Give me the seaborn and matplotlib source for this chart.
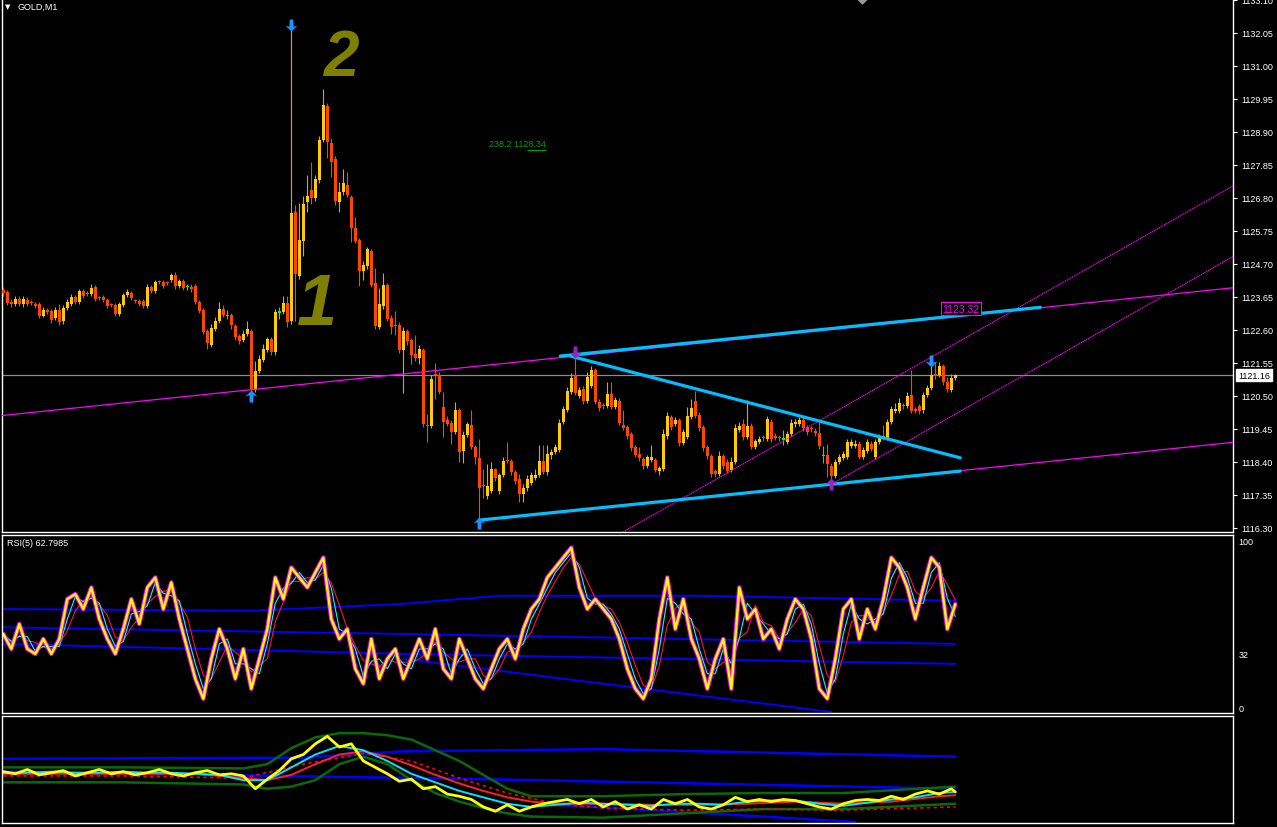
import matplotlib
matplotlib.use("Agg")
import numpy as np
import pandas as pd
import matplotlib.pyplot as plt
from matplotlib.path import Path
from matplotlib.transforms import blended_transform_factory
import seaborn as sns

# ---------------- price data (GOLD, M1) ----------------
opens = [
 1123.87,1123.81,1123.49,1123.43,1123.59,1123.43,1123.56,1123.46,1123.43,1123.43,
 1123.05,1123.24,1123.21,1122.98,1123.24,1122.89,1123.30,1123.43,1123.65,1123.49,
 1123.84,1123.75,1123.75,1123.97,1123.62,1123.65,1123.56,1123.40,1123.40,1123.11,
 1123.40,1123.71,1123.78,1123.52,1123.52,1123.52,1123.37,1123.97,1123.84,1124.13,
 1124.13,1124.10,1124.19,1124.35,1124.00,1124.16,1123.97,1123.97,1124.00,1123.49,
 1123.24,1122.57,1122.12,1122.63,1122.89,1123.27,1123.05,1123.08,1122.73,1122.41,
 1122.28,1122.47,1122.57,1120.69,1121.29,1121.64,1121.96,1122.31,1121.90,1123.17,
 1123.17,1123.46,1122.89,1126.35,1124.32,1125.43,1126.67,1127.05,1126.80,1127.37,
 1128.64,1129.73,1128.55,1128.04,1126.67,1126.99,1127.21,1126.83,1125.84,1125.46,
 1124.48,1124.64,1125.11,1124.10,1122.70,1123.37,1124.03,1122.98,1122.73,1122.76,
 1121.96,1122.57,1122.28,1121.83,1121.71,1121.96,1119.54,1119.54,1121.17,1121.17,
 1120.15,1119.73,1119.64,1119.35,1120.05,1118.75,1119.26,1119.58,1118.87,1118.53,
 1117.64,1117.32,1117.48,1118.18,1117.48,1117.99,1118.43,1118.43,1118.08,1117.86,
 1117.38,1117.57,1117.73,1117.89,1117.99,1118.43,1118.08,1118.62,1118.72,1118.78,
 1119.67,1120.05,1120.63,1121.17,1120.50,1120.72,1120.34,1120.82,1121.32,1120.31,
 1120.18,1120.18,1120.56,1120.15,1120.34,1119.58,1119.51,1119.29,1118.87,1118.65,
 1118.49,1118.27,1118.46,1118.46,1118.11,1118.18,1119.23,1119.83,1119.61,1119.73,
 1119.00,1119.19,1119.83,1120.34,1119.90,1119.51,1118.87,1118.59,1118.11,1118.02,
 1118.59,1118.40,1118.14,1118.40,1119.42,1119.61,1119.19,1119.54,1118.87,1119.03,
 1119.16,1119.13,1119.67,1119.23,1119.16,1119.13,1119.03,1119.29,1119.61,1119.61,
 1119.73,1119.51,1119.45,1119.38,1119.32,1118.59,1118.62,1118.27,1117.96,1118.40,
 1118.53,1118.56,1118.91,1118.91,1118.97,1118.56,1118.75,1118.97,1118.56,1119.03,
 1119.19,1119.16,1119.67,1120.02,1120.02,1120.18,1120.18,1120.53,1120.09,1120.18,
 1120.05,1120.53,1120.75,1121.20,1121.17,1121.45,1120.94,1120.69,1121.07]
closes = [
 1123.78,1123.46,1123.43,1123.59,1123.43,1123.59,1123.43,1123.45,1123.37,1123.05,
 1123.24,1123.17,1122.92,1123.24,1122.86,1123.30,1123.49,1123.65,1123.49,1123.84,
 1123.68,1123.74,1123.94,1123.59,1123.61,1123.56,1123.37,1123.39,1123.11,1123.43,
 1123.71,1123.81,1123.62,1123.51,1123.43,1123.37,1123.97,1123.84,1124.13,1124.12,
 1124.00,1124.09,1124.35,1124.00,1124.16,1123.94,1123.97,1123.91,1123.49,1123.21,
 1122.54,1122.19,1122.66,1122.89,1123.27,1123.08,1123.05,1122.76,1122.38,1122.25,
 1122.47,1122.63,1120.69,1121.29,1121.67,1121.99,1122.31,1121.90,1123.17,1123.17,
 1123.46,1122.86,1126.32,1124.38,1125.46,1126.61,1126.86,1126.80,1127.40,1128.64,
 1129.76,1128.58,1127.94,1126.70,1126.99,1127.28,1126.89,1125.84,1125.43,1124.48,
 1124.67,1125.18,1124.03,1122.73,1123.43,1124.03,1122.95,1122.70,1122.72,1121.96,
 1122.57,1122.25,1121.80,1121.71,1121.99,1119.61,1119.53,1121.04,1121.16,1120.63,
 1119.67,1119.61,1119.35,1120.05,1118.72,1119.26,1119.61,1118.87,1118.56,1117.57,
 1117.63,1117.64,1118.18,1117.89,1117.99,1118.43,1118.42,1118.08,1117.80,1117.38,
 1117.57,1117.86,1117.99,1117.99,1118.43,1118.08,1118.65,1118.72,1118.87,1119.64,
 1120.09,1120.66,1121.07,1120.59,1120.69,1120.34,1121.10,1121.32,1120.31,1120.12,
 1120.17,1120.56,1120.15,1120.37,1119.64,1119.48,1119.23,1118.84,1118.62,1118.53,
 1118.27,1118.56,1118.56,1118.14,1118.21,1119.29,1119.86,1119.51,1119.73,1119.00,
 1119.35,1119.86,1120.12,1119.86,1119.48,1118.84,1118.59,1118.02,1118.02,1118.59,
 1118.27,1118.11,1118.40,1119.48,1119.54,1119.19,1119.54,1118.87,1119.07,1119.13,
 1119.15,1119.77,1119.13,1119.16,1119.15,1119.13,1119.29,1119.64,1119.67,1119.73,
 1119.48,1119.35,1119.44,1119.32,1118.91,1118.59,1118.34,1117.96,1118.40,1118.56,
 1118.65,1119.03,1119.03,1118.97,1118.56,1118.78,1119.03,1118.81,1119.03,1119.19,
 1119.18,1119.67,1120.09,1120.09,1120.28,1120.17,1120.50,1120.02,1120.02,1120.02,
 1120.53,1120.75,1121.17,1121.13,1121.45,1120.94,1120.72,1121.07,1121.16]
highs = [
 1123.97,1123.87,1123.59,1123.68,1123.68,1123.68,1123.65,1123.56,1123.49,1123.49,
 1123.33,1123.30,1123.27,1123.33,1123.43,1123.40,1123.59,1123.75,1123.71,1123.91,
 1123.91,1123.84,1124.06,1124.03,1123.68,1123.71,1123.62,1123.46,1123.46,1123.49,
 1123.78,1123.91,1123.84,1123.59,1123.59,1123.59,1124.06,1124.03,1124.19,1124.19,
 1124.19,1124.16,1124.41,1124.44,1124.22,1124.22,1124.06,1124.06,1124.06,1123.56,
 1123.30,1122.63,1122.79,1123.02,1123.49,1123.40,1123.24,1123.14,1122.79,1122.47,
 1122.60,1122.89,1122.63,1121.61,1121.80,1122.15,1122.38,1122.38,1123.27,1123.33,
 1123.68,1123.68,1132.18,1126.57,1126.64,1126.86,1127.53,1127.94,1127.53,1128.77,
 1130.27,1129.82,1128.71,1128.13,1127.31,1127.72,1127.62,1126.89,1126.19,1125.53,
 1124.80,1125.24,1125.18,1124.57,1123.94,1124.41,1124.10,1123.08,1123.21,1122.86,
 1122.70,1122.63,1122.34,1122.44,1122.12,1122.03,1119.93,1121.17,1121.55,1121.26,
 1120.63,1119.86,1119.73,1120.31,1120.12,1119.38,1119.67,1120.05,1118.94,1119.13,
 1118.18,1118.34,1118.40,1118.21,1118.05,1118.56,1119.03,1118.49,1118.14,1118.02,
 1117.70,1117.99,1118.08,1118.18,1118.94,1118.94,1118.94,1118.81,1118.97,1119.77,
 1120.18,1120.79,1121.23,1121.77,1120.79,1120.82,1121.26,1121.45,1121.39,1120.40,
 1120.28,1120.94,1120.94,1120.47,1120.43,1120.05,1119.58,1119.35,1118.94,1118.87,
 1118.56,1118.62,1118.94,1118.53,1118.27,1119.45,1119.99,1119.90,1119.83,1119.80,
 1119.45,1120.15,1120.40,1120.66,1119.99,1119.58,1118.94,1118.65,1118.18,1118.75,
 1118.65,1118.49,1118.56,1119.61,1119.67,1119.77,1120.37,1119.64,1119.13,1119.23,
 1119.26,1119.86,1119.77,1119.32,1119.26,1119.42,1119.38,1119.77,1119.77,1119.83,
 1119.83,1119.58,1119.54,1119.48,1119.67,1118.91,1118.97,1118.37,1118.49,1118.65,
 1118.75,1119.13,1119.13,1119.10,1119.07,1118.87,1119.13,1119.07,1119.13,1119.29,
 1119.58,1119.77,1120.18,1120.28,1120.43,1120.28,1120.63,1121.32,1120.15,1120.24,
 1120.63,1120.85,1121.48,1121.58,1121.58,1121.52,1121.10,1121.20,1121.20]
lows = [
 1123.68,1123.40,1123.33,1123.37,1123.37,1123.33,1123.37,1123.40,1123.30,1122.98,
 1123.02,1123.11,1122.82,1122.92,1122.76,1122.79,1123.24,1123.37,1123.43,1123.43,
 1123.62,1123.68,1123.68,1123.52,1123.56,1123.49,1123.30,1123.33,1123.05,1123.05,
 1123.33,1123.65,1123.56,1123.46,1123.37,1123.30,1123.30,1123.78,1123.78,1124.06,
 1123.94,1124.03,1124.13,1123.91,1123.94,1123.87,1123.87,1123.81,1123.43,1123.14,
 1122.47,1121.99,1122.06,1122.57,1122.82,1123.02,1122.95,1122.63,1122.28,1122.15,
 1122.22,1122.41,1120.63,1120.63,1121.23,1121.58,1121.90,1121.80,1121.80,1122.95,
 1123.11,1122.70,1122.79,1122.89,1124.22,1124.95,1126.35,1126.61,1126.70,1127.28,
 1128.58,1128.07,1127.47,1126.58,1126.35,1126.89,1126.83,1125.40,1125.37,1124.00,
 1124.19,1124.54,1123.97,1122.63,1122.63,1123.27,1122.89,1122.47,1122.44,1121.87,
 1120.59,1122.12,1121.52,1121.61,1121.52,1119.51,1119.03,1119.48,1120.40,1120.56,
 1119.19,1119.54,1118.97,1119.29,1118.40,1118.37,1119.19,1118.81,1118.34,1116.59,
 1117.25,1117.22,1117.41,1117.80,1117.38,1117.92,1118.37,1117.99,1117.70,1117.13,
 1117.13,1117.48,1117.67,1117.83,1117.92,1118.02,1117.99,1118.49,1118.65,1118.72,
 1119.61,1119.99,1120.56,1120.53,1120.43,1120.24,1120.28,1120.75,1120.24,1120.02,
 1120.09,1120.12,1120.09,1120.09,1119.58,1119.42,1119.13,1118.75,1118.56,1118.43,
 1118.18,1118.21,1118.40,1118.08,1117.99,1118.11,1119.13,1119.42,1119.54,1118.91,
 1118.94,1119.13,1119.77,1119.80,1119.38,1118.75,1118.49,1117.92,1117.92,1117.96,
 1118.18,1118.05,1118.08,1118.34,1119.35,1119.10,1119.13,1118.81,1118.81,1118.97,
 1119.07,1119.07,1119.03,1119.10,1119.07,1118.94,1118.97,1119.23,1119.51,1119.54,
 1119.38,1119.26,1119.35,1119.23,1118.81,1118.37,1117.92,1117.83,1117.89,1118.34,
 1118.46,1118.49,1118.84,1118.84,1118.49,1118.49,1118.68,1118.75,1118.49,1118.97,
 1119.10,1119.10,1119.61,1119.96,1119.96,1120.09,1120.12,1119.96,1119.96,1119.93,
 1119.96,1120.47,1120.69,1121.04,1121.10,1120.85,1120.63,1120.63,1121.01]

price_ticks = ["1116.30","1117.35","1118.40","1119.45","1120.50","1121.55","1122.60",
               "1123.65","1124.70","1125.75","1126.80","1127.85","1128.90","1129.95",
               "1131.00","1132.05","1133.10"]
last_price = 1121.16
time_labels = ["1 Dec 2015","1 Dec 14:51","1 Dec 15:07","1 Dec 15:23","1 Dec 15:39",
               "1 Dec 15:55","1 Dec 16:11","1 Dec 16:27","1 Dec 16:43","1 Dec 16:59",
               "1 Dec 17:15","1 Dec 17:31","1 Dec 17:47","1 Dec 18:03","1 Dec 18:19"]
time_label_bars = [0,16,32,48,64,80,96,112,128,144,160,176,192,208,224]

# fractal arrows (bar index)
up_arrow_bars = [62, 119]
down_arrow_bars = [72, 232]
purple_up_bars = [207]
purple_down_bars = [143]

# trend lines: (bar, price) anchor pairs
trend_main = [(62, 1120.70), (143, 1121.77)]
trend_parallel_start = (207.2, 1117.70)
channel_a = [(156.3, 1116.27), (239.25, 1122.26)]
channel_b_start = (207.2, 1117.70)
cyan_low = [(119, 1116.55), (239.25, 1118.11)]
cyan_high = [(139.25, 1121.77), (259.25, 1123.32)]
cyan_fall = [(141.75, 1121.77), (239.25, 1118.53)]
fib_label, fib_price, fib_bars = "238.2 1128.34", 1128.34, (131, 135.75)

# ---------------- RSI(5) pane ----------------
rsi_values = [44,35,50,35,32,41,32,41,65,68,
              59,72,53,41,32,47,65,50,72,78,
              59,75,53,35,17,5,29,47,35,17,
              35,11,29,47,78,65,84,78,72,81,
              90,53,41,47,23,14,41,17,29,35,
              17,29,41,29,47,23,17,41,29,17,
              11,23,35,41,29,47,59,65,78,84,
              90,96,72,59,65,59,53,41,23,11,
              5,17,53,78,47,65,41,29,11,29,
              41,11,72,53,59,41,47,35,53,65,
              59,41,11,5,29,59,65,41,59,47,
              65,90,84,72,53,72,90,84,47,62]
rsi_step = 2
rsi_blue1_bars = [0, 62, 99, 124, 174, 238]
rsi_blue1 = [59, 58, 62, 67, 67, 64]
rsi_blue2_bars = [0, 100, 238]
rsi_blue2 = [48, 44, 38]
rsi_blue3_bars = [0, 100, 238]
rsi_blue3 = [38, 32, 26]
rsi_blue4_bars = [100, 207]
rsi_blue4 = [29, -3]

# ---------------- lower oscillator pane ----------------
osc_y_bars = list(range(0, 238, 3)) + [238]
osc_yellow = [48,46,50,45,47,49,44,47,50,46,48,45,47,50,46,44,47,49,45,46,44,
              32,41,49,60,64,74,81,71,74,58,52,46,39,41,32,34,27,25,22,15,11,
              17,11,15,18,20,22,18,22,15,20,13,17,13,22,18,22,15,13,17,24,20,
              22,20,22,21,18,15,13,18,21,22,21,25,22,27,30,27,32,29]
osc_cyan_bars = [0,6,12,18,24,30,36,42,48,54,60,66,72,78,84,90,96,102,108,114,120,
                 126,132,138,144,150,156,162,168,174,180,186,192,198,204,210,216,222,
                 228,234,238]
osc_cyan = [47,47,48,47,47,48,47,47,46,45,40,40,52,64,72,68,58,46,38,30,24,
            18,15,17,19,18,17,16,18,18,17,20,21,21,18,16,19,22,24,28,29]
osc_red_bars = [0,12,24,36,48,60,66,72,78,84,90,96,102,108,114,120,126,132,138,
                144,150,162,174,186,198,210,222,234,238]
osc_red = [46,46,46,46,46,42,40,45,55,64,67,62,54,45,37,30,24,20,18,
           18,18,17,17,18,20,18,20,25,26]
osc_dash_bars = [0,30,60,75,90,102,114,126,138,150,170,190,210,238]
osc_dash = [44,44,42,55,65,58,42,28,18,14,12,13,12,15]
osc_green_bars = [0,30,60,66,72,78,84,90,96,102,108,114,120,126,132,150,170,190,210,238]
osc_green_up = [52,52,51,55,70,80,84,84,82,78,68,58,45,32,25,25,27,28,28,34]
osc_green_lo = [38,38,36,32,34,40,55,62,55,40,28,20,14,9,6,5,9,13,13,18]
osc_blue_top_bars = [0, 75, 100, 150, 238]
osc_blue_top = [60, 61, 67, 69, 62]
osc_blue_mid_bars = [0, 120, 238]
osc_blue_mid = [48, 41, 32]
osc_blue_low_bars = [139, 213]
osc_blue_low = [17, 1]

# ---------------- style ----------------
sns.set_theme(style="dark")
plt.rcParams["font.family"] = ["Liberation Sans", "DejaVu Sans"]
plt.rcParams["axes.facecolor"] = "black"
plt.rcParams["figure.facecolor"] = "black"

BULL, BULL_WICK, BEAR, DOJI = "#FFCC00", "#DAA520", "#FF4500", "#00FF00"
MAG, CYAN, BLUE, ARROW_BLUE, PURPLE = "#FF00FF", "#00BFFF", "#0000FF", "#1E90FF", "#A020C8"
FS = 6.5

W, H = 1277, 828
fig = plt.figure(figsize=(W / 100, H / 100), dpi=100, facecolor="black")

def px_axes(left, top, right, bottom):
    return fig.add_axes([left / W, 1 - bottom / H, (right - left) / W, (bottom - top) / H])

ax = px_axes(2, 0, 1233, 533)
ax_rsi = px_axes(2, 536, 1233, 714)
ax_osc = px_axes(2, 717, 1233, 824)

XMIN = -0.33
XMAX = XMIN + (1233 - 2) / 4.0
PPX = 31.43  # pixels per price unit
YTOP = 1133.13
YBOT = YTOP - 533 / PPX

for a in (ax, ax_rsi, ax_osc):
    a.set_facecolor("black")
    a.set_xlim(XMIN, XMAX)
    a.grid(False)
    for s in a.spines.values():
        s.set_color("white")
        s.set_linewidth(1.0)
ax.spines["top"].set_visible(False)

# ---------------- candles ----------------
o = np.array(opens); c = np.array(closes); h = np.array(highs); l = np.array(lows)
bars = np.arange(len(c))
up = c > o
dn = c < o
fill = np.where(up, BULL, np.where(dn, BEAR, DOJI))
wick = np.where(up, BULL_WICK, np.where(dn, BEAR, DOJI))
ax.vlines(bars, l, h, colors=wick, lw=0.8, zorder=3)
body_h = np.maximum(np.abs(c - o), 1.1 / PPX)
body_lo = np.where(c == o, o - 0.5 / PPX, np.minimum(o, c))
ax.bar(bars, body_h, bottom=body_lo, width=0.75, color=fill, linewidth=0, zorder=4)

# current price line
ax.axhline(last_price, color="#8C8C8C", lw=0.9, zorder=2)

# trend lines
slope_main = (trend_main[1][1] - trend_main[0][1]) / (trend_main[1][0] - trend_main[0][0])
ax.axline(trend_main[0], trend_main[1], color=MAG, lw=0.9, zorder=5)
xp = [trend_parallel_start[0], XMAX + 2]
ax.plot(xp, [trend_parallel_start[1], trend_parallel_start[1] + slope_main * (xp[1] - xp[0])],
        color=MAG, lw=0.9, zorder=5)
slope_ch = (channel_a[1][1] - channel_a[0][1]) / (channel_a[1][0] - channel_a[0][0])
ax.axline(channel_a[0], channel_a[1], color=MAG, lw=0.8, ls=(0, (1.2, 0.6)), zorder=5)
xb = [channel_b_start[0], XMAX + 2]
ax.plot(xb, [channel_b_start[1], channel_b_start[1] + slope_ch * (xb[1] - xb[0])],
        color=MAG, lw=0.8, ls=(0, (1.2, 0.6)), zorder=5)
for seg in (cyan_low, cyan_high, cyan_fall):
    sns.lineplot(x=[seg[0][0], seg[1][0]], y=[seg[0][1], seg[1][1]], ax=ax,
                 color=CYAN, lw=2.3, zorder=6, legend=False, estimator=None, sort=False)

# fractal arrows
up_path = Path([(0, 1), (1, 0), (0.35, 0.2), (0.3, -1), (-0.3, -1), (-0.35, 0.2), (-1, 0), (0, 1)],
               [Path.MOVETO] + [Path.LINETO] * 6 + [Path.CLOSEPOLY])
down_path = Path([(x, -y) for x, y in up_path.vertices], up_path.codes)
OFF = 0.12
ax.scatter(up_arrow_bars, [l[i] - OFF for i in up_arrow_bars], marker=up_path, s=75,
           color=ARROW_BLUE, linewidths=0, zorder=8)
ax.scatter(down_arrow_bars, [h[i] + OFF for i in down_arrow_bars], marker=down_path, s=75,
           color=ARROW_BLUE, linewidths=0, zorder=8)
ax.scatter(purple_up_bars, [l[i] - OFF for i in purple_up_bars], marker=up_path, s=75,
           color=PURPLE, linewidths=0, zorder=8)
ax.scatter(purple_down_bars, [h[i] + OFF for i in purple_down_bars], marker=down_path, s=75,
           color=PURPLE, linewidths=0, zorder=8)
ax.scatter([214.75], [YTOP], marker="D", s=30, color="#9A9A9A", linewidths=0, zorder=8,
           clip_on=False)

# hand drawn wave labels
ax.text(84.5, 1131.25, "2", color="#808000", fontsize=46, fontweight="bold",
        style="italic", ha="center", va="center", family="Liberation Sans", zorder=7)
ax.text(78.3, 1123.40, "1", color="#808000", fontsize=52, fontweight="bold",
        style="italic", ha="center", va="center", family="Liberation Sans", zorder=7)

# fibo label
ax.hlines(fib_price, fib_bars[0], fib_bars[1], color="#00A000", lw=0.8, zorder=6)
ax.text(fib_bars[1], fib_price + 0.06, fib_label, color="#00A000", fontsize=FS,
        ha="right", va="bottom", zorder=6)

# trend line price label
ax.text(239.4, 1123.28, f"{cyan_high[1][1]:.2f}", color=MAG, fontsize=FS + 1, ha="center",
        va="center", zorder=9,
        bbox=dict(facecolor="black", edgecolor=MAG, linewidth=0.8, pad=1.0))

ax.set_ylim(YBOT, YTOP)
ax.set_yticks([float(t) for t in price_ticks])
ax.set_yticklabels(price_ticks)
ax.yaxis.tick_right()
ax.tick_params(axis="y", colors="white", labelcolor="white", length=3, width=0.8,
               pad=3, labelsize=FS, direction="out")
ax.set_xticks([])
tr = blended_transform_factory(ax.transAxes, ax.transData)
ax.text(1 + 5 / 1231, last_price, f"{last_price:.2f}", transform=tr, fontsize=FS,
        color="black", ha="left", va="center", clip_on=False, zorder=10,
        bbox=dict(facecolor="white", edgecolor="white", pad=1.2))

fig.text(8 / W, 1 - 7 / H, "\u25BC", color="white", fontsize=5, ha="center", va="center",
         family="DejaVu Sans")
fig.text(17 / W, 1 - 7 / H, "GOLD,M1", color="white", fontsize=FS, ha="left", va="center")

# ---------------- RSI pane ----------------
rsi_bars = np.arange(len(rsi_values)) * rsi_step
rsi_df = pd.DataFrame({"bar": rsi_bars, "rsi": rsi_values})
rsi_df["sig1"] = rsi_df["rsi"].rolling(2, min_periods=1).mean()
rsi_df["sig2"] = rsi_df["rsi"].rolling(3, min_periods=1).mean()
for bx, by in ((rsi_blue1_bars, rsi_blue1), (rsi_blue2_bars, rsi_blue2),
               (rsi_blue3_bars, rsi_blue3), (rsi_blue4_bars, rsi_blue4)):
    sns.lineplot(x=bx, y=by, ax=ax_rsi, color=BLUE, lw=1.4, legend=False,
                 estimator=None, sort=False)
sns.lineplot(data=rsi_df, x="bar", y="sig2", ax=ax_rsi, color="#FF1040", lw=0.8,
             legend=False, estimator=None)
sns.lineplot(data=rsi_df, x="bar", y="sig1", ax=ax_rsi, color="#00FFFF", lw=0.8,
             legend=False, estimator=None)
sns.lineplot(data=rsi_df, x="bar", y="rsi", ax=ax_rsi, color=MAG, lw=3.2,
             legend=False, estimator=None)
sns.lineplot(data=rsi_df, x="bar", y="rsi", ax=ax_rsi, color="#FFFF00", lw=1.7,
             legend=False, estimator=None)
ax_rsi.set_ylim(-3.6, 103.6)
ax_rsi.set_yticks([0, 32, 100])
ax_rsi.set_yticklabels(["0", "32", "100"])
ax_rsi.yaxis.tick_right()
ax_rsi.tick_params(axis="y", colors="white", labelcolor="white", length=0, pad=4,
                   labelsize=FS)
ax_rsi.set_xticks([])
ax_rsi.set_xlabel(""); ax_rsi.set_ylabel("")
fig.text(7 / W, 1 - 544 / H, "RSI(5) 62.7985", color="white", fontsize=FS,
         ha="left", va="center")

# ---------------- oscillator pane ----------------
for bx, by in ((osc_blue_top_bars, osc_blue_top), (osc_blue_mid_bars, osc_blue_mid),
               (osc_blue_low_bars, osc_blue_low)):
    sns.lineplot(x=bx, y=by, ax=ax_osc, color=BLUE, lw=1.8, legend=False,
                 estimator=None, sort=False)
sns.lineplot(x=osc_green_bars, y=osc_green_up, ax=ax_osc, color="#0A6A0A", lw=1.8,
             legend=False, estimator=None)
sns.lineplot(x=osc_green_bars, y=osc_green_lo, ax=ax_osc, color="#0A6A0A", lw=1.8,
             legend=False, estimator=None)
ax_osc.plot(osc_dash_bars, osc_dash, color="#FF0000", lw=1.2, ls=(0, (2, 2)))
sns.lineplot(x=osc_red_bars, y=osc_red, ax=ax_osc, color="#FF2020", lw=1.4,
             legend=False, estimator=None)
sns.lineplot(x=osc_cyan_bars, y=osc_cyan, ax=ax_osc, color="#00E5FF", lw=1.4,
             legend=False, estimator=None)
sns.lineplot(x=osc_y_bars, y=osc_yellow, ax=ax_osc, color="#FFFF00", lw=2.0,
             legend=False, estimator=None)
ax_osc.set_ylim(0, 100)
ax_osc.set_yticks([])
ax_osc.set_xticks(time_label_bars)
ax_osc.set_xticklabels(time_labels, ha="left")
ax_osc.tick_params(axis="x", colors="white", labelcolor="white", length=3, width=0.8,
                   pad=0.5, labelsize=FS, direction="out")
ax_osc.set_xlabel(""); ax_osc.set_ylabel("")
ax_osc.set_xlim(XMIN, XMAX)
ax_rsi.set_xlim(XMIN, XMAX)
ax.set_xlim(XMIN, XMAX)

fig.savefig("out.png", dpi=100, facecolor="black")
